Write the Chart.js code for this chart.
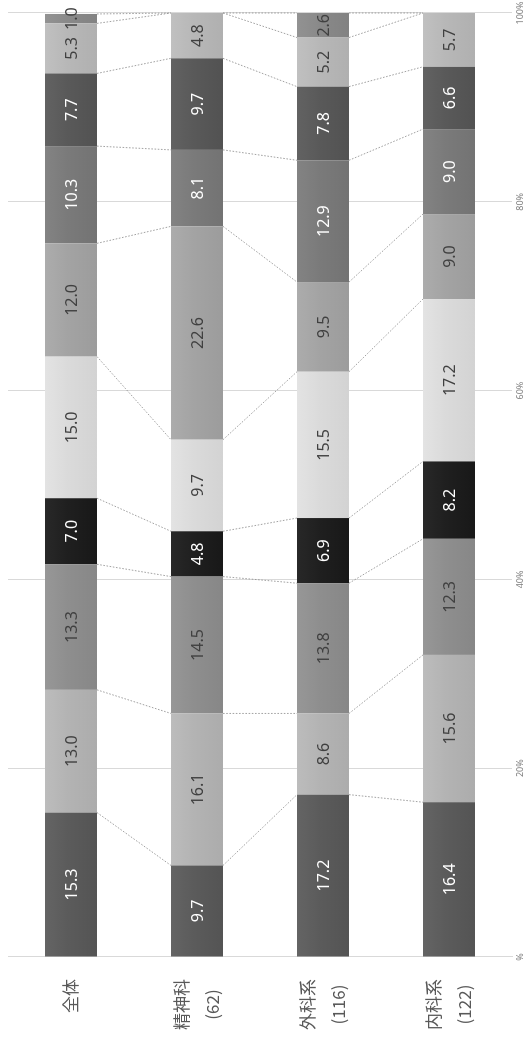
<!DOCTYPE html>
<html><head><meta charset="utf-8">
<script src="https://cdn.jsdelivr.net/npm/chart.js@4.4.1/dist/chart.umd.min.js"></script>
<style>
html,body{margin:0;padding:0;background:#fff;overflow:hidden;width:530px;height:1045px;}
#wrap{position:absolute;left:0;top:0;width:1045px;height:530px;transform-origin:0 0;transform:translateY(1045px) rotate(-90deg);}
</style></head><body>
<div id="wrap"><canvas id="c" width="1045" height="530"></canvas></div>
<script>
// ---- data ----
const categories = [['全体'], ['精神科', '(62)'], ['外科系', '(116)'], ['内科系', '(122)']];
const s1 = [15.3, 9.7, 17.2, 16.4];
const s2 = [13.0, 16.1, 8.6, 15.6];
const s3 = [13.3, 14.5, 13.8, 12.3];
const s4 = [7.0, 4.8, 6.9, 8.2];
const s5 = [15.0, 9.7, 15.5, 17.2];
const s6 = [12.0, 22.6, 9.5, 9.0];
const s7 = [10.3, 8.1, 12.9, 9.0];
const s8 = [7.7, 9.7, 7.8, 6.6];
const s9 = [5.3, 4.8, 5.2, 5.7];
const s10 = [1.0, 0, 2.6, 0];
const tickLabels = ['%', '20%', '40%', '60%', '80%', '100%'];

// ---- styles ----
const seriesValues = [s1, s2, s3, s4, s5, s6, s7, s8, s9, s10];
const fillColors = ['#5b5b5b', '#b3b3b3', '#8e8e8e', '#1f1f1f', '#dadada', '#a3a3a3', '#7a7a7a', '#595959', '#b7b7b7', '#898989'];
const textColors = ['#ffffff', '#404040', '#404040', '#ffffff', '#404040', '#404040', '#ffffff', '#ffffff', '#404040', '#404040'];

function shade(hex, d) {
  const n = parseInt(hex.slice(1), 16);
  const f = c => Math.max(0, Math.min(255, c + d));
  return 'rgb(' + f(n >> 16) + ',' + f((n >> 8) & 255) + ',' + f(n & 255) + ')';
}

const datasets = seriesValues.map((v, k) => ({
  label: 'S' + (k + 1),
  data: v,
  backgroundColor: (c) => {
    const chart = c.chart, ys = chart.scales && chart.scales.y;
    if (c.type !== 'data' || !ys || !chart.chartArea) return fillColors[k];
    const yc = ys.getPixelForValue(c.dataIndex);
    const half = 26;
    const g = chart.ctx.createLinearGradient(0, yc - half, 0, yc + half);
    g.addColorStop(0, shade(fillColors[k], 9));
    g.addColorStop(0.45, fillColors[k]);
    g.addColorStop(1, shade(fillColors[k], -7));
    return g;
  },
  borderWidth: 0,
  barPercentage: 0.413,
  categoryPercentage: 1.0
}));

const connectorPlugin = {
  id: 'connectors',
  beforeDatasetsDraw(chart) {
    const ctx = chart.ctx;
    ctx.save();
    ctx.strokeStyle = '#8a8a8a';
    ctx.lineWidth = 0.8;
    ctx.setLineDash([1.6, 1.6]);
    for (let k = 0; k < chart.data.datasets.length; k++) {
      const meta = chart.getDatasetMeta(k);
      for (let i = 0; i < meta.data.length - 1; i++) {
        const a = meta.data[i], b = meta.data[i + 1];
        ctx.beginPath();
        ctx.moveTo(a.x, a.y + a.height / 2);
        ctx.lineTo(b.x, b.y - b.height / 2);
        ctx.stroke();
      }
    }
    ctx.restore();
  }
};

const valueLabelPlugin = {
  id: 'valueLabels',
  afterDatasetsDraw(chart) {
    const ctx = chart.ctx;
    ctx.save();
    ctx.font = '16px "Noto Sans"';
    ctx.textAlign = 'center';
    ctx.textBaseline = 'middle';
    chart.data.datasets.forEach((ds, k) => {
      const meta = chart.getDatasetMeta(k);
      meta.data.forEach((el, i) => {
        const v = ds.data[i];
        if (!v) return;
        ctx.fillStyle = textColors[k];
        ctx.fillText(v.toFixed(1), (el.x + el.base) / 2, el.y + 1);
      });
    });
    ctx.restore();
  }
};

const categoryLabelPlugin = {
  id: 'catLabels',
  afterDraw(chart) {
    const ctx = chart.ctx;
    const ys = chart.scales.y;
    ctx.save();
    ctx.font = '17px "Noto Sans CJK JP"';
    ctx.fillStyle = '#595959';
    ctx.textAlign = 'center';
    ctx.textBaseline = 'middle';
    const rightEdge = 66, lh = 31;
    categories.forEach((lines, i) => {
      const yc = ys.getPixelForValue(i);
      const w = Math.max(...lines.map(t => ctx.measureText(t).width));
      const cx = rightEdge - w / 2;
      lines.forEach((t, j) => {
        ctx.fillText(t, cx, yc + (j - (lines.length - 1) / 2) * lh);
      });
    });
    ctx.restore();
  }
};

new Chart(document.getElementById('c'), {
  type: 'bar',
  data: { labels: categories.map(l => l.join(' ')), datasets },
  options: {
    indexAxis: 'y',
    responsive: false,
    animation: false,
    devicePixelRatio: 1,
    layout: { padding: { top: 8, right: 13, bottom: 0, left: 0 } },
    plugins: { legend: { display: false }, tooltip: { enabled: false } },
    scales: {
      x: {
        stacked: true, min: 0, max: 100,
        ticks: {
          stepSize: 20, padding: 3,
          font: { family: 'Noto Sans', size: 9 }, color: '#7f7f7f',
          maxRotation: 0, minRotation: 0,
          callback: (v, idx) => tickLabels[idx]
        },
        grid: { color: '#d9d9d9', lineWidth: 1, drawTicks: false },
        border: { display: false },
        afterFit: s => { s.height = 18; s.paddingLeft = 0; s.paddingRight = 0; }
      },
      y: {
        stacked: true,
        ticks: { display: false },
        grid: { display: false, drawTicks: false },
        border: { display: true, color: '#d9d9d9' },
        afterFit: s => { s.width = 88; s.paddingTop = 0; s.paddingBottom = 0; }
      }
    }
  },
  plugins: [connectorPlugin, valueLabelPlugin, categoryLabelPlugin]
});
</script>
</body></html>
